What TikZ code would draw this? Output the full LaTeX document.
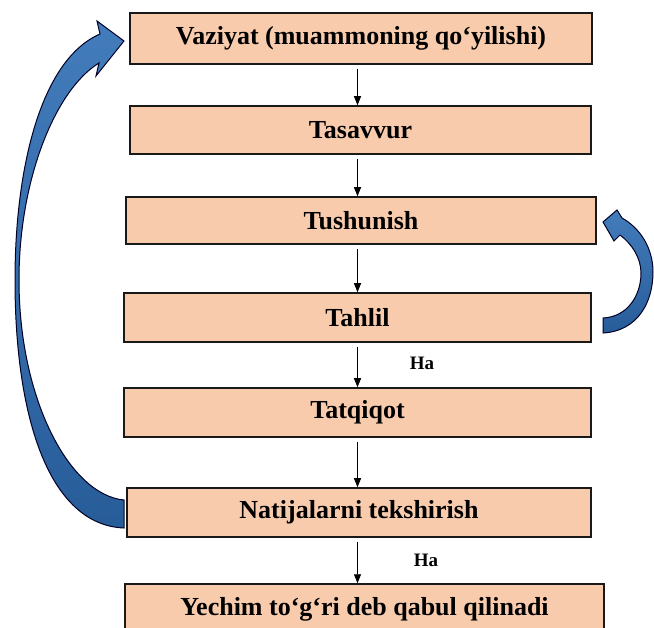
\documentclass[tikz,border=0pt]{standalone}
\usepackage{fontspec}
\setmainfont{Liberation Serif}
\usetikzlibrary{arrows.meta}
\definecolor{boxfill}{HTML}{F8CBAD}
\definecolor{arrowblue}{HTML}{2E6DB4}

\begin{document}
\begin{tikzpicture}[x=1pt, y=-1pt,
      blk/.style={draw=black!90, line width=1.5pt, fill=boxfill, inner sep=0pt, font=\fontsize{26}{30}\selectfont\bfseries},
      flow/.style={-{Triangle[length=9pt,width=7pt]}, line width=0.8pt, shorten <=4pt},
      lbl/.style={font=\fontsize{19}{22}\selectfont\bfseries},
      loopback/.style={draw=black!85!blue, line width=1pt, top color=arrowblue!90!white, bottom color=arrowblue!85!black}]
  \useasboundingbox (0,0) rectangle (654,628);
  \node[blk, minimum width=462pt, minimum height=51pt] (vaziyat) at (361,38.5) {Vaziyat (muammoning qo‘yilishi)};
  \node[blk, minimum width=461pt, minimum height=48pt] (tasavvur) at (360.5,130) {Tasavvur};
  \node[blk, minimum width=470pt, minimum height=47pt] (tushunish) at (361,220.5) {Tushunish};
  \node[blk, minimum width=467pt, minimum height=49pt] (tahlil) at (357.5,317.5) {Tahlil};
  \node[blk, minimum width=467pt, minimum height=49pt] (tatqiqot) at (357.5,412.5) {Tatqiqot};
  \node[blk, minimum width=464pt, minimum height=49pt] (natija) at (359,512.5) {Natijalarni tekshirish};
  \node[blk, minimum width=479pt, minimum height=50pt] (yechim) at (364.5,609) {Yechim to‘g‘ri deb qabul qilinadi};
  \node[lbl] (ha1) at (422,363) {Ha};
  \node[lbl] (ha2) at (426,560) {Ha};

  % oqim
  \draw[flow] (vaziyat.south -| tahlil.south) -- (tasavvur.north -| tahlil.south);
  \draw[flow] (tasavvur.south -| tahlil.south) -- (tushunish.north -| tahlil.south);
  \draw[flow] (tushunish.south -| tahlil.south) -- (tahlil.north);
  \draw[flow] (tahlil.south) -- (tatqiqot.north);
  \draw[flow] (tatqiqot.south) -- (natija.north -| tatqiqot.south);
  \draw[flow] (natija.south -| tatqiqot.south) -- (yechim.north -| tatqiqot.south);

  % qaytish strelkalari
  \draw[loopback] (124,528) .. controls (50,525) and (15,420) .. (15,280)
    .. controls (15,170) and (40,60) .. (100,34) -- (97,21) -- (124,41) -- (96,76) -- (99,63)
    .. controls (55,90) and (19,180) .. (19,280)
    .. controls (19,400) and (70,495) .. (124,500) -- cycle;
  \draw[loopback] (603,333) .. controls (638,331) and (653,302) .. (653,272)
    .. controls (653,248) and (640,228) .. (622,218) -- (617,210) -- (603,222) -- (614,241) -- (620,235)
    .. controls (632,244) and (641,258) .. (641,273)
    .. controls (641,296) and (627,317) .. (603,318) -- cycle;
\end{tikzpicture}
\end{document}
